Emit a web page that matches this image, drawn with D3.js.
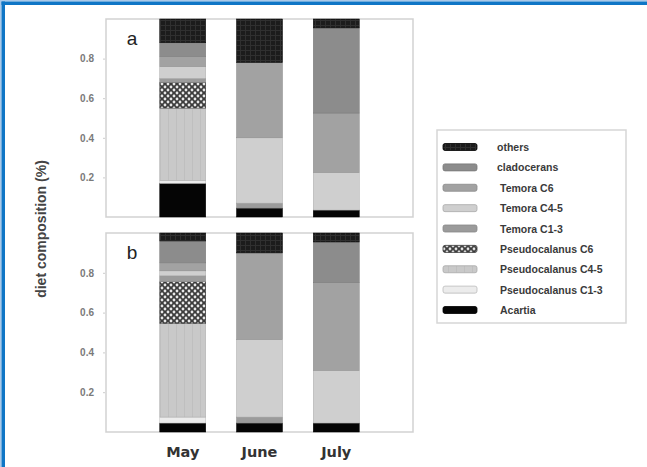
<!DOCTYPE html>
<html lang="en">
<head>
  <meta charset="UTF-8">
  <title>diet composition</title>
  <script src="https://d3js.org/d3.v7.min.js"></script>
  <style>
    html, body { margin: 0; padding: 0; background: #fff; }
    text { font-family: "Liberation Sans", Arial, sans-serif; }
  </style>
</head>
<body>
  <div id="chart"></div>
  <script>
    // categories and series
    var months = ["May", "June", "July"];
    var prey = ["Acartia", "Pseudocalanus C1-3", "Pseudocalanus C4-5", "Pseudocalanus C6",
                "Temora C1-3", "Temora C4-5", "Temora C6", "cladocerans", "others"];
    var yTicks = [0.2, 0.4, 0.6, 0.8];

    // panel a values, one entry per month
    var acartiaA   = [0.17, 0.045, 0.035];
    var pseudo13A  = [0.015, 0, 0];
    var pseudo45A  = [0.365, 0, 0];
    var pseudo6A   = [0.13, 0, 0];
    var temora13A  = [0.02, 0.025, 0];
    var temora45A  = [0.06, 0.33, 0.19];
    var temora6A   = [0.05, 0.38, 0.30];
    var cladoA     = [0.07, 0, 0.43];
    var othersA    = [0.12, 0.22, 0.045];

    // panel b values
    var acartiaB   = [0.045, 0.045, 0.045];
    var pseudo13B  = [0.03, 0, 0];
    var pseudo45B  = [0.47, 0, 0];
    var pseudo6B   = [0.21, 0, 0];
    var temora13B  = [0.03, 0.03, 0];
    var temora45B  = [0.025, 0.39, 0.265];
    var temora6B   = [0.04, 0.435, 0.44];
    var cladoB     = [0.11, 0, 0.205];
    var othersB    = [0.04, 0.10, 0.045];

    var seriesA = [acartiaA, pseudo13A, pseudo45A, pseudo6A, temora13A, temora45A, temora6A, cladoA, othersA];
    var seriesB = [acartiaB, pseudo13B, pseudo45B, pseudo6B, temora13B, temora45B, temora6B, cladoB, othersB];

    function toRows(series) {
      return months.map(function (m, i) {
        var row = { month: m, idx: i + 1 };
        prey.forEach(function (p, j) { row[p] = series[j][i]; });
        return row;
      });
    }

    var width = 647, height = 467;
    var svg = d3.select("#chart").append("svg")
      .attr("width", width).attr("height", height);

    // fills
    var defs = svg.append("defs");
    var chk = defs.append("pattern").attr("id", "pchk").attr("patternUnits", "userSpaceOnUse")
      .attr("width", 6).attr("height", 6);
    chk.append("rect").attr("width", 6).attr("height", 6).attr("fill", "#3c3c3c");
    [[0, 0], [6, 0], [0, 6], [6, 6], [3, 3]].forEach(function (p) {
      chk.append("circle").attr("cx", p[0]).attr("cy", p[1]).attr("r", 1.4).attr("fill", "#e8e8e8");
    });
    var oth = defs.append("pattern").attr("id", "poth").attr("patternUnits", "userSpaceOnUse")
      .attr("width", 5).attr("height", 5);
    oth.append("rect").attr("width", 5).attr("height", 5).attr("fill", "#1c1c1c");
    oth.append("path").attr("d", "M0 0.5H5M0.5 0V5").attr("stroke", "#303030").attr("stroke-width", 1);
    var ps = defs.append("pattern").attr("id", "pstr").attr("patternUnits", "userSpaceOnUse")
      .attr("width", 8).attr("height", 8);
    ps.append("rect").attr("width", 8).attr("height", 8).attr("fill", "#c9c9c9");
    ps.append("path").attr("d", "M0.5 0V8").attr("stroke", "#bfbfbf").attr("stroke-width", 1);

    var fills = {
      "Acartia": "#050505",
      "Pseudocalanus C1-3": "#ececec",
      "Pseudocalanus C4-5": "url(#pstr)",
      "Pseudocalanus C6": "url(#pchk)",
      "Temora C1-3": "#9b9b9b",
      "Temora C4-5": "#cfcfcf",
      "Temora C6": "#a2a2a2",
      "cladocerans": "#8c8c8c",
      "others": "url(#poth)"
    };
    var strokes = {
      "Acartia": "#000", "Pseudocalanus C1-3": "#bbb", "Pseudocalanus C4-5": "#aaa",
      "Pseudocalanus C6": "#333", "Temora C1-3": "#888", "Temora C4-5": "#aaa",
      "Temora C6": "#8a8a8a", "cladocerans": "#777", "others": "#000"
    };

    // blue frame of the figure
    svg.append("rect").attr("x", 0).attr("y", 0).attr("width", width).attr("height", 1.5).attr("fill", "#a9c9e9");
    svg.append("rect").attr("x", 0).attr("y", 0).attr("width", 1.5).attr("height", height).attr("fill", "#a9c9e9");
    svg.append("rect").attr("x", 1.5).attr("y", 1.5).attr("width", width).attr("height", 3.5).attr("fill", "#0f76c6");
    svg.append("rect").attr("x", 1.5).attr("y", 1.5).attr("width", 3.5).attr("height", height).attr("fill", "#0f76c6");

    var x = d3.scaleLinear().domain([0, 4]).range([106, 413]);
    var barW = 46;
    var stack = d3.stack().keys(prey);

    function panel(series, top, bottom, letter) {
      var y = d3.scaleLinear().domain([0, 1]).range([bottom, top]);
      var g = svg.append("g");

      g.append("rect").attr("x", x(0)).attr("y", top)
        .attr("width", x(4) - x(0)).attr("height", bottom - top)
        .attr("fill", "#fff").attr("stroke", "#d2d2d2").attr("stroke-width", 1.5);

      var layers = stack(toRows(series));
      g.selectAll("g.layer").data(layers).join("g")
        .attr("class", "layer")
        .attr("fill", function (d) { return fills[d.key]; })
        .attr("stroke", function (d) { return strokes[d.key]; })
        .attr("stroke-width", 0.5)
        .selectAll("rect").data(function (d) { return d.filter(function (v) { return v[1] - v[0] > 0; }); })
        .join("rect")
        .attr("x", function (d) { return x(d.data.idx) - barW / 2; })
        .attr("y", function (d) { return y(d[1]); })
        .attr("width", barW)
        .attr("height", function (d) { return y(d[0]) - y(d[1]); });

      var axis = d3.axisLeft(y).tickValues(yTicks).tickSize(2).tickPadding(9).tickFormat(d3.format(".1f"));
      var ag = g.append("g").attr("transform", "translate(" + (x(0) - 1) + ",0)").call(axis);
      ag.select(".domain").remove();
      ag.selectAll("line").attr("stroke", "#ccc");
      ag.selectAll("text").attr("fill", "#7a7a7a").attr("font-size", 10).attr("font-weight", "bold")
        .attr("font-family", "Liberation Sans, Arial, sans-serif");

      g.append("text").attr("x", 132).attr("y", top + 26).attr("text-anchor", "middle")
        .attr("font-size", 19).attr("fill", "#222").text(letter);
      return y;
    }

    panel(seriesA, 19, 217, "a");
    panel(seriesB, 233, 432, "b");

    // month labels
    svg.selectAll("text.month").data(months).join("text")
      .attr("class", "month")
      .attr("x", function (d, i) { return x(i + 1); })
      .attr("y", 457)
      .attr("text-anchor", "middle")
      .attr("font-size", 14.5).attr("font-weight", "bold").attr("fill", "#333")
      .style("font-family", "DejaVu Sans, sans-serif")
      .text(function (d) { return d; });

    // y label
    svg.append("text")
      .attr("transform", "translate(46,229) rotate(-90)")
      .attr("text-anchor", "middle")
      .attr("font-size", 14).attr("font-weight", "bold").attr("fill", "#444")
      .text("diet composition (%)");

    // legend
    var lg = svg.append("g");
    lg.append("rect").attr("x", 437).attr("y", 130).attr("width", 189).attr("height", 193)
      .attr("fill", "#fff").attr("stroke", "#d6d6d6").attr("stroke-width", 1.5);
    var legendKeys = prey.slice().reverse();
    var ly = d3.scalePoint().domain(legendKeys).range([147, 310]);
    var items = lg.selectAll("g.item").data(legendKeys).join("g")
      .attr("class", "item")
      .attr("transform", function (d) { return "translate(0," + ly(d) + ")"; });
    items.append("rect").attr("x", 443).attr("y", -3.5).attr("width", 34).attr("height", 7).attr("rx", 2)
      .attr("fill", function (d) { return fills[d]; })
      .attr("stroke", function (d) { return strokes[d]; }).attr("stroke-width", 0.8);
    items.append("text").attr("x", function (d, i) { return i < 2 ? 497 : 500; }).attr("y", 4)
      .attr("font-size", 10.5).attr("font-weight", "bold").attr("fill", "#3a3a3a")
      .text(function (d) { return d; });
  </script>
</body>
</html>
